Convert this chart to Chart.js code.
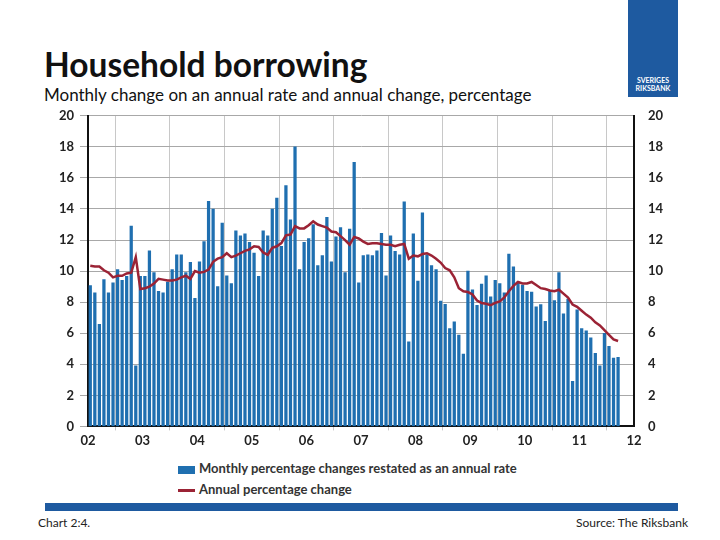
<!DOCTYPE html>
<html>
<head>
<meta charset="utf-8">
<script src="https://cdn.jsdelivr.net/npm/chart.js@4"></script>
<style>
  body { margin: 0; width: 720px; height: 540px; background: #fff; font-family: Lato, "Open Sans", sans-serif; position: relative; overflow: hidden; }
  #title { position: absolute; left: 44px; top: 44px; font-size: 33.5px; font-weight: bold; color: #111; }
  #subtitle { position: absolute; left: 44px; top: 84px; font-size: 17px; color: #111; }
  #logo { position: absolute; left: 628px; top: 0; width: 50px; height: 97px; background: #1e5aa0; color: #fff; font-size: 7px; font-weight: bold; text-align: center; }
  #logo div { position: absolute; left: 0; width: 50px; top: 76px; line-height: 8px; }
  #wrap { position: absolute; left: 30px; top: 102px; width: 662px; height: 350px; }
  #legend { position: absolute; left: 178px; top: 458px; font-size: 13px; font-weight: bold; color: #333; line-height: 21px; }
  .sw { display: inline-block; width: 17px; vertical-align: middle; margin-right: 4px; }
  #band { position: absolute; left: 45px; top: 503px; width: 633px; height: 8px; background: #1e5aa0; }
  #foot1 { position: absolute; left: 38px; top: 515px; font-size: 12px; color: #222; }
  #foot2 { position: absolute; right: 32px; top: 515px; font-size: 12px; color: #222; }
</style>
</head>
<body>
<div id="title">Household borrowing</div>
<div id="subtitle">Monthly change on an annual rate and annual change, percentage</div>
<div id="logo"><div>SVERIGES<br>RIKSBANK</div></div>
<div id="wrap"><canvas id="chart"></canvas></div>
<div id="legend">
  <div><span class="sw" style="height:8px;background:#1f6fb0"></span>Monthly percentage changes restated as an annual rate</div>
  <div><span class="sw" style="height:2.5px;background:#9b2335"></span>Annual percentage change</div>
</div>
<div id="band"></div>
<div id="foot1">Chart 2:4.</div>
<div id="foot2">Source: The Riksbank</div>
<script>
// Månader från jan 2002 till sep 2011
const startYear = 2002;
const yearTicks = ['02', '03', '04', '05', '06', '07', '08', '09', '10', '11', '12'];

const monthlyRate = [
  9.07, 8.6, 6.58, 9.46, 8.6, 9.25, 10.1, 9.4, 9.67, 12.9, 3.9, 9.67, 9.67, 11.3, 9.9, 8.7, 8.6, 9.3, 10.1, 11.05,
  11.05, 9.9, 10.56, 8.24, 10.6, 11.9, 14.5, 14.0, 9.0, 13.1, 9.7, 9.2, 12.6, 12.27, 12.4, 11.85, 11.16, 9.67, 12.6, 12.27,
  14.0, 14.7, 11.6, 15.5, 13.3, 18.0, 10.1, 11.85, 12.1, 13.0, 10.35, 11.0, 13.46, 10.6, 12.2, 12.8, 9.9, 12.7, 17.0, 9.25,
  11.0, 11.05, 11.0, 11.3, 12.44, 9.7, 12.27, 11.27, 11.05, 14.46, 5.45, 12.4, 9.35, 13.76, 11.05, 10.35, 10.1, 8.07, 7.86,
  6.3, 6.73, 5.88, 4.66, 10.0, 8.8, 7.8, 9.16, 9.7, 8.35, 9.4, 9.2, 8.6, 11.1, 10.27, 9.3, 9.1, 8.7, 8.65, 7.7,
  7.84, 6.77, 8.7, 8.1, 9.9, 7.25, 8.2, 2.9, 7.5, 6.3, 6.15, 5.7, 4.7, 3.9, 6.0, 5.15, 4.4, 4.45
];

const annualChange = [
  10.35, 10.3, 10.3, 10.05, 9.9, 9.6, 9.7, 9.7, 9.85, 9.9, 10.9, 8.85, 8.9, 9.0, 9.2, 9.5, 9.45, 9.4, 9.4, 9.45,
  9.6, 9.7, 9.5, 10.0, 9.9, 9.95, 10.1, 10.6, 10.8, 10.9, 11.15, 10.9, 11.0, 11.15, 11.3, 11.4, 11.6, 11.55, 11.2, 11.05,
  11.5, 11.6, 11.8, 12.3, 12.35, 12.9, 12.75, 12.75, 12.95, 13.2, 13.0, 12.9, 12.8, 12.55, 12.5, 12.25, 12.0, 11.7, 12.2, 12.1,
  11.9, 11.75, 11.8, 11.8, 11.75, 11.7, 11.7, 11.6, 11.7, 11.75, 10.8, 11.0, 10.95, 11.1, 11.15, 11.0, 10.8, 10.55, 10.2,
  10.05, 9.6, 8.9, 8.7, 8.65, 8.5, 8.1, 7.95, 7.9, 7.8, 7.95, 8.05, 8.3, 8.7, 9.05, 9.3, 9.2, 9.2, 9.3, 9.1,
  8.9, 8.85, 8.75, 8.7, 8.8, 8.55, 8.3, 7.85, 7.7, 7.45, 7.2, 7.0, 6.7, 6.5, 6.2, 5.9, 5.6, 5.5
];

const xPos = i => startYear + i / 12 + 1 / 24;
const barData = monthlyRate.map((v, i) => ({ x: xPos(i), y: v }));
const lineData = annualChange.map((v, i) => ({ x: xPos(i), y: v }));

const tickFont = { family: 'Lato', size: 13, weight: 'bold' };
const yTicks = { stepSize: 2, color: '#222', font: tickFont, padding: 6 };
const fitWidth = axis => { axis.width = 58; };

new Chart(document.getElementById('chart'), {
  type: 'bar',
  data: {
    datasets: [
      {
        type: 'line',
        data: lineData,
        borderColor: '#9b2335',
        borderWidth: 2.5,
        pointRadius: 0,
        tension: 0,
        yAxisID: 'y'
      },
      {
        type: 'bar',
        data: barData,
        backgroundColor: '#1f6fb0',
        barThickness: 2.6,
        yAxisID: 'y'
      }
    ]
  },
  options: {
    responsive: true,
    maintainAspectRatio: false,
    animation: false,
    layout: { padding: { top: 10 } },
    plugins: { legend: { display: false }, tooltip: { enabled: false } },
    scales: {
      x: {
        type: 'linear',
        min: 2002,
        max: 2012,
        offset: false,
        grid: { color: '#c8c8c8', tickLength: 4, drawTicks: true },
        border: { color: '#111', width: 2 },
        ticks: {
          stepSize: 1,
          color: '#222',
          font: tickFont,
          callback: v => yearTicks[Math.round(v - startYear)]
        }
      },
      y: {
        position: 'left',
        min: 0,
        max: 20,
        grid: { color: '#a8a8a8' },
        border: { color: '#111', width: 2 },
        ticks: yTicks,
        afterFit: fitWidth
      },
      y2: {
        position: 'right',
        min: 0,
        max: 20,
        grid: { display: false },
        border: { color: '#111', width: 2 },
        ticks: yTicks,
        afterFit: fitWidth
      }
    }
  }
});
</script>
</body>
</html>
